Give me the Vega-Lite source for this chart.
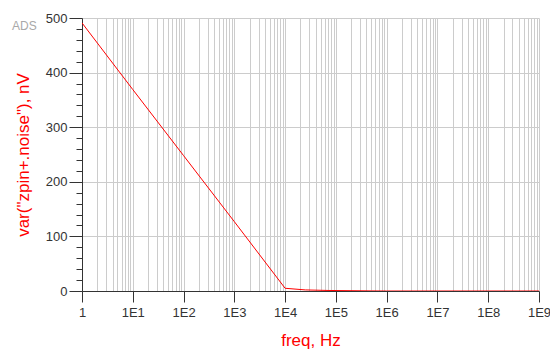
{
  "$schema": "https://vega.github.io/schema/vega-lite/v6.json",
  "width": 457,
  "height": 273,
  "autosize": {"type": "none"},
  "padding": {"left": 82, "top": 18, "right": 11, "bottom": 60},
  "background": "white",
  "title": {
    "text": "ADS",
    "anchor": "start",
    "frame": "group",
    "orient": "top",
    "baseline": "middle",
    "dx": -70,
    "dy": 30,
    "fontSize": 12,
    "fontWeight": "normal",
    "font": "Liberation Sans",
    "color": "#a8a8a8"
  },
  "config": {
    "view": {"stroke": null},
    "font": "Liberation Sans",
    "axis": {
      "labelFont": "Liberation Sans",
      "titleFont": "Liberation Sans",
      "labelFontSize": 13,
      "labelColor": "#333333",
      "titleColor": "#ff0000",
      "titleFontSize": 17,
      "titleFontWeight": "normal",
      "domainColor": "#333333",
      "tickColor": "#333333",
      "gridColor": "#cccccc",
      "gridWidth": 1
    }
  },
  "data": {
    "values": [
      {"freq": 1, "noise": 491},
      {"freq": 10, "noise": 369},
      {"freq": 100, "noise": 248},
      {"freq": 1000, "noise": 127},
      {"freq": 10000, "noise": 5},
      {"freq": 25000, "noise": 2},
      {"freq": 70000, "noise": 1},
      {"freq": 500000, "noise": 0.2},
      {"freq": 1000000, "noise": 0},
      {"freq": 10000000, "noise": 0},
      {"freq": 100000000, "noise": 0},
      {"freq": 1000000000, "noise": 0}
    ]
  },
  "mark": {"type": "line", "color": "#ff0000", "strokeWidth": 1, "clip": true},
  "encoding": {
    "x": {
      "field": "freq",
      "type": "quantitative",
      "scale": {"type": "log", "domain": [1, 1000000000], "nice": false},
      "axis": {
        "title": "freq, Hz",
        "titlePadding": 13,
        "values": [1,2,3,4,5,6,7,8,9,10,20,30,40,50,60,70,80,90,100,200,300,400,500,600,700,800,900,1000,2000,3000,4000,5000,6000,7000,8000,9000,10000,20000,30000,40000,50000,60000,70000,80000,90000,100000,200000,300000,400000,500000,600000,700000,800000,900000,1000000,2000000,3000000,4000000,5000000,6000000,7000000,8000000,9000000,10000000,20000000,30000000,40000000,50000000,60000000,70000000,80000000,90000000,100000000,200000000,300000000,400000000,500000000,600000000,700000000,800000000,900000000,1000000000],
        "labelExpr": "datum.value == 1 ? '1' : (abs(log(datum.value)/LN10 - round(log(datum.value)/LN10)) < 1e-6 ? '1E' + round(log(datum.value)/LN10) : '')",
        "labelOverlap": false,
        "labelFlush": false,
        "labelPadding": 4,
        "tickSize": {"condition": {"test": "abs(log(datum.value)/LN10 - round(log(datum.value)/LN10)) < 1e-6", "value": 11}, "value": 0},
        "grid": true
      }
    },
    "y": {
      "field": "noise",
      "type": "quantitative",
      "scale": {"domain": [0, 500], "nice": false},
      "axis": {
        "title": "var(\"zpin+.noise\"), nV",
        "titlePadding": 13,
        "values": [0,20,40,60,80,100,120,140,160,180,200,220,240,260,280,300,320,340,360,380,400,420,440,460,480,500],
        "labelExpr": "datum.value % 100 === 0 ? datum.value : ''",
        "labelOverlap": false,
        "labelPadding": 2,
        "tickSize": {"condition": {"test": "datum.value % 100 === 0", "value": 13}, "value": 6},
        "gridOpacity": {"condition": {"test": "datum.value % 100 === 0", "value": 1}, "value": 0}
      }
    }
  }
}
